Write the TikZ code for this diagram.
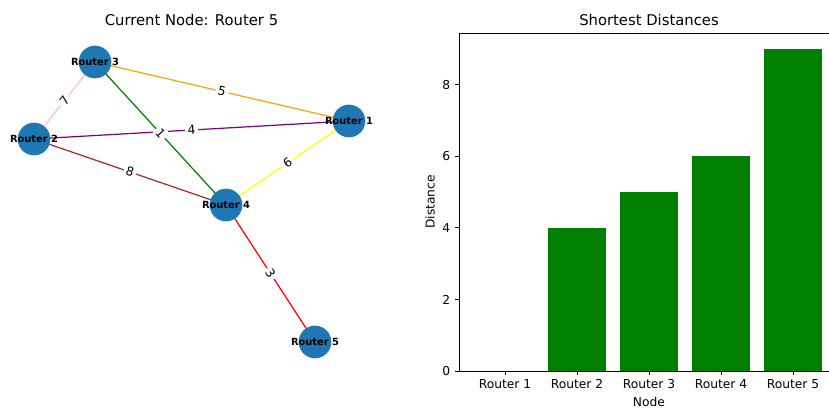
\documentclass[tikz,border=0pt]{standalone}
\usepackage{fontspec}
\setmainfont{DejaVu Sans}
\definecolor{nodeblue}{HTML}{1F77B4}
\definecolor{eorange}{RGB}{255,165,0}
\definecolor{epink}{RGB}{255,192,203}
\definecolor{egreen}{RGB}{0,128,0}
\definecolor{epurple}{RGB}{128,0,128}
\definecolor{ebrown}{RGB}{165,42,42}
\definecolor{eyellow}{RGB}{255,255,0}
\definecolor{ered}{RGB}{255,0,0}
\definecolor{bargreen}{RGB}{0,128,0}
\pgfdeclarelayer{bg}
\pgfsetlayers{bg,main}
\begin{document}
\begin{tikzpicture}[x=0.75pt,y=-0.75pt,
  router/.style={circle, fill=nodeblue, minimum size=24.5pt, inner sep=0pt},
  rtext/.style={inner sep=0pt, font=\fontsize{7.4}{8}\selectfont\bfseries},
  link/.style={line width=0.92pt},
  wlabel/.style={sloped, fill=white, inner sep=1.8pt, rounded corners=2pt, font=\fontsize{9.2}{10}\selectfont},
  titletext/.style={inner sep=0pt, font=\fontsize{11.1}{13}\selectfont},
  ticktext/.style={inner sep=0pt, font=\fontsize{9.2}{11}\selectfont},
  spine/.style={line width=0.74pt, line cap=rect},
  tickmark/.style={line width=0.74pt},
  barbox/.style={fill=bargreen}]
\useasboundingbox (0,0) rectangle (829,408);

% ---------------- graph ----------------
\node[titletext] (t1) at (191.5,20) {Current Node: Router 5};

\node[router] (r3) at (95,62) {};
\node[router] (r1) at (349,121) {};
\node[router] (r2) at (34,139) {};
\node[router] (r4) at (226,205) {};
\node[router] (r5) at (315,342) {};
\node[rtext] (r3t) at (r3) {Router 3};
\node[rtext] (r1t) at (r1) {Router 1};
\node[rtext] (r2t) at (r2) {Router 2};
\node[rtext] (r4t) at (r4) {Router 4};
\node[rtext] (r5t) at (r5) {Router 5};

\begin{pgfonlayer}{bg}
\draw[link, eorange] (r3.center) -- (r1.center);
\draw[link, epink] (r3.center) -- (r2.center);
\draw[link, egreen] (r3.center) -- (r4.center);
\draw[link, epurple] (r2.center) -- (r1.center);
\draw[link, ebrown] (r2.center) -- (r4.center);
\draw[link, eyellow] (r4.center) -- (r1.center);
\draw[link, ered] (r4.center) -- (r5.center);
\path (r3.center) -- node[wlabel] (l5) {5} (r1.center);
\path (r3.center) -- node[wlabel] (l7) {7} (r2.center);
\path (r2.center) -- node[wlabel] (l4) {4} (r1.center);
\path (r3.center) -- node[wlabel] (l1) {1} (r4.center);
\path (r2.center) -- node[wlabel] (l8) {8} (r4.center);
\path (r4.center) -- node[wlabel] (l6) {6} (r1.center);
\path (r4.center) -- node[wlabel] (l3) {3} (r5.center);
\end{pgfonlayer}

% ---------------- bar chart ----------------
\node[titletext] (t2) at (649,20) {Shortest Distances};

% bars: x = 505 + 72 i, y = 371 - 35.77 v, half width 28.8
\fill[barbox] (548.2,371) rectangle (605.8,227.9);
\fill[barbox] (620.2,371) rectangle (677.8,192.2);
\fill[barbox] (692.2,371) rectangle (749.8,156.4);
\fill[barbox] (764.2,371) rectangle (821.8,49.1);

\draw[spine] (829,33) -- (459,33) -- (459,371) -- (829,371);

% y ticks
\foreach \v/\yy in {0/371,2/299.46,4/227.92,6/156.38,8/84.84}{
  \draw[tickmark] (459,\yy) -- (454.7,\yy);
  \node[ticktext, anchor=east] (yt\v) at (450.4,\yy) {\v};
}
% x ticks
\foreach \i/\xx in {1/505,2/577,3/649,4/721,5/793}{
  \draw[tickmark] (\xx,371) -- (\xx,375.3);
  \node[ticktext, anchor=north] (xt\i) at (\xx,379.6) {Router \i};
}
\node[ticktext] (xl) at (649,402) {Node};
\node[ticktext, rotate=90] (yl) at (430,202) {Distance};
\end{tikzpicture}
\end{document}
